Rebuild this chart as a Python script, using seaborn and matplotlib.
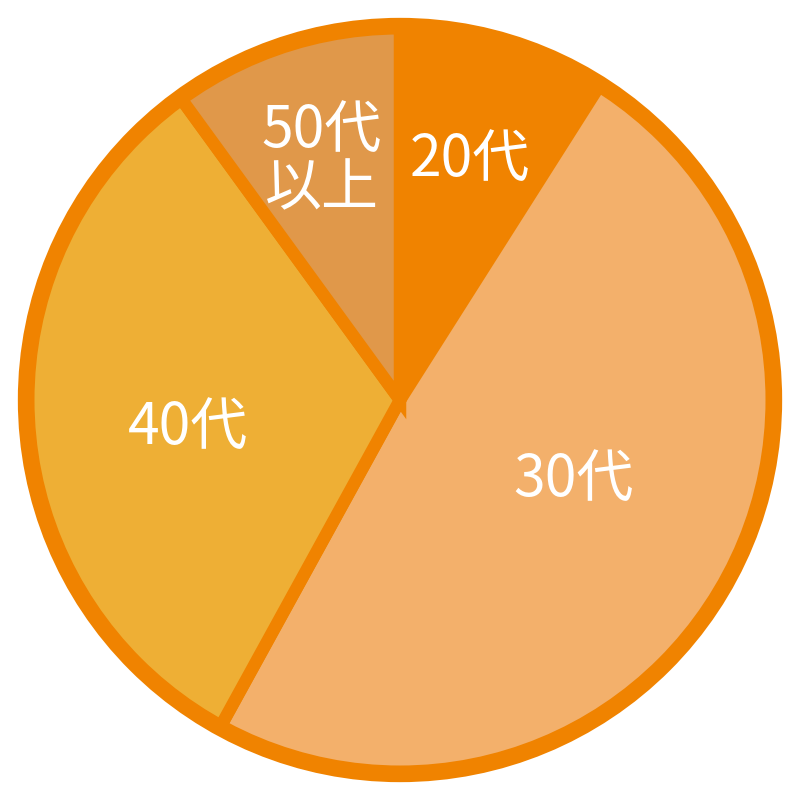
import matplotlib.pyplot as plt
import seaborn as sns

sns.set_theme(style="white")
plt.rcParams['font.family'] = ['Noto Sans CJK JP', 'DejaVu Sans']

# age group shares (percent), clockwise from 12 o'clock
labels = ['20代', '30代', '40代', '50代\n以上']
shares = [9, 49, 32, 10]
colors = ['#F08300', '#F3B06B', '#EEAF35', '#E0984A']
edge_color = '#F08300'

fig, ax = plt.subplots(figsize=(8, 8), dpi=100)
fig.subplots_adjust(left=0, right=1, top=1, bottom=0)

wedges, texts = ax.pie(
    shares, colors=colors, startangle=90, counterclock=False,
    radius=1.0, labels=None,
    wedgeprops=dict(edgecolor=edge_color, linewidth=9, joinstyle='miter'),
)

# label positions tuned to the reference
label_pos = [(0.187, 0.642), (0.463, -0.214), (-0.567, -0.075), (-0.209, 0.642)]
for lab, (x, y) in zip(labels, label_pos):
    ax.text(x, y, lab, color='white', fontsize=41,
            ha='center', va='center', linespacing=1.0)

# outer ring
ring = plt.Circle((0, 0), 1.0, fill=False, edgecolor=edge_color, linewidth=12)
ax.add_patch(ring)

ax.set_xlim(-1.07, 1.07)
ax.set_ylim(-1.07, 1.07)
ax.set_aspect('equal')
ax.axis('off')

plt.savefig('out.png', dpi=100, facecolor='white')
plt.close()
